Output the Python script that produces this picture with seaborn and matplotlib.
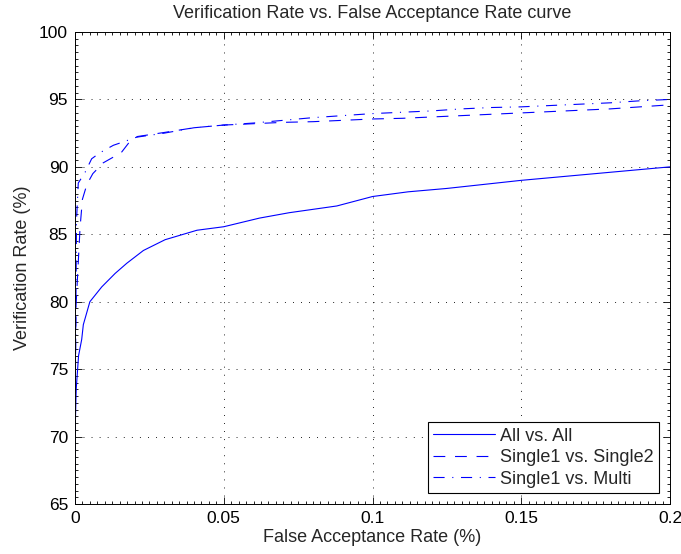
import numpy as np
import pandas as pd
import matplotlib
matplotlib.use("Agg")
import matplotlib.pyplot as plt
from matplotlib.ticker import MultipleLocator
import seaborn as sns

# ---- data ----
far_all = [0.0, 0.0, 0.0004, 0.0012, 0.00225, 0.0028, 0.005, 0.009, 0.0135, 0.0174, 0.023,
           0.0303, 0.041, 0.05, 0.062, 0.072, 0.088, 0.1, 0.112, 0.125, 0.15, 0.175, 0.2]
vr_all = [65.0, 70.0, 73.5, 76.0, 77.2, 78.3, 80.0, 81.1, 82.1, 82.85, 83.8,
          84.6, 85.3, 85.56, 86.2, 86.6, 87.1, 87.8, 88.15, 88.4, 89.0, 89.5, 90.0]

far_s2 = [0.0, 0.0003, 0.001, 0.0017, 0.0025, 0.004, 0.006, 0.0095, 0.0135, 0.0157, 0.0185,
          0.021, 0.03, 0.04, 0.05, 0.06, 0.07, 0.08, 0.09, 0.1, 0.11, 0.12, 0.13, 0.14,
          0.15, 0.16, 0.17, 0.18, 0.19, 0.2]
vr_s2 = [70.0, 79.5, 82.5, 85.5, 87.6, 88.7, 89.5, 90.3, 90.8, 91.1, 91.9,
         92.25, 92.55, 92.9, 93.1, 93.2, 93.3, 93.35, 93.45, 93.55, 93.6, 93.7, 93.8, 93.9,
         94.0, 94.1, 94.2, 94.3, 94.45, 94.6]

far_mu = [0.0, 0.0005, 0.0011, 0.0034, 0.0056, 0.0084, 0.0129, 0.0162, 0.0207, 0.03, 0.04,
          0.05, 0.06, 0.07, 0.08, 0.09, 0.1, 0.11, 0.12, 0.13, 0.14, 0.15, 0.16, 0.17,
          0.18, 0.19, 0.2]
vr_mu = [70.0, 86.0, 88.8, 89.6, 90.6, 91.05, 91.6, 91.85, 92.2, 92.5, 92.9,
         93.1, 93.25, 93.45, 93.65, 93.8, 93.95, 94.05, 94.15, 94.3, 94.4, 94.45, 94.55, 94.65,
         94.75, 94.9, 95.0]

series_names = ["All vs. All", "Single1 vs. Single2", "Single1 vs. Multi"]
x_ticks = [0, 0.05, 0.1, 0.15, 0.2]
x_tick_labels = ["0", "0.05", "0.1", "0.15", "0.2"]
y_ticks = [65, 70, 75, 80, 85, 90, 95, 100]

df = pd.concat([
    pd.DataFrame({"far": far_all, "vr": vr_all, "series": series_names[0]}),
    pd.DataFrame({"far": far_s2, "vr": vr_s2, "series": series_names[1]}),
    pd.DataFrame({"far": far_mu, "vr": vr_mu, "series": series_names[2]}),
], ignore_index=True)

sns.set_theme(style="white")
plt.rcParams["font.family"] = ["Liberation Sans", "DejaVu Sans"]
plt.rcParams["lines.scale_dashes"] = False

fig = plt.figure(figsize=(6.81, 5.54), dpi=100)
ax = fig.add_axes([75 / 681, 1 - 504 / 554, 595 / 681, 472 / 554])

dashes = {series_names[0]: "", series_names[1]: (8.5, 7.0), series_names[2]: (8.0, 5.5, 0.8, 5.5)}
sns.lineplot(data=df, x="far", y="vr", style="series", dashes=dashes, color="#0000ff",
             linewidth=0.8, sort=False, estimator=None, ax=ax)

ax.set_xlim(0, 0.2)
ax.set_ylim(65, 100)
ax.set_xticks(x_ticks)
ax.set_xticklabels(x_tick_labels)
ax.set_yticks(y_ticks)
ax.xaxis.set_minor_locator(MultipleLocator(0.0025))
ax.yaxis.set_minor_locator(MultipleLocator(0.5))
ax.tick_params(which="both", direction="in", top=True, right=True, bottom=True, left=True,
               colors="black", labelsize=12.5, width=0.6)
ax.tick_params(which="major", length=5, pad=5)
ax.tick_params(which="minor", length=2.5)
ax.grid(True, which="major", color="black", linestyle=(0, (0.6, 5.2)), linewidth=0.7)
for s in ax.spines.values():
    s.set_visible(True)
    s.set_color("black")
    s.set_linewidth(0.7)

ax.set_title("Verification Rate vs. False Acceptance Rate curve", fontsize=13, pad=10)
ax.set_xlabel("False Acceptance Rate (%)", fontsize=13, labelpad=2)
ax.set_ylabel("Verification Rate (%)", fontsize=13, labelpad=6)

leg = ax.legend(loc="lower right", fontsize=13, frameon=True, fancybox=False, handlelength=3.4,
                borderaxespad=0.6, borderpad=0.3, labelspacing=0.25, handletextpad=0.3)
leg.get_frame().set_edgecolor("black")
leg.get_frame().set_linewidth(0.8)
leg.get_frame().set_alpha(1)

fig.savefig("out.png", dpi=100, facecolor="white")
